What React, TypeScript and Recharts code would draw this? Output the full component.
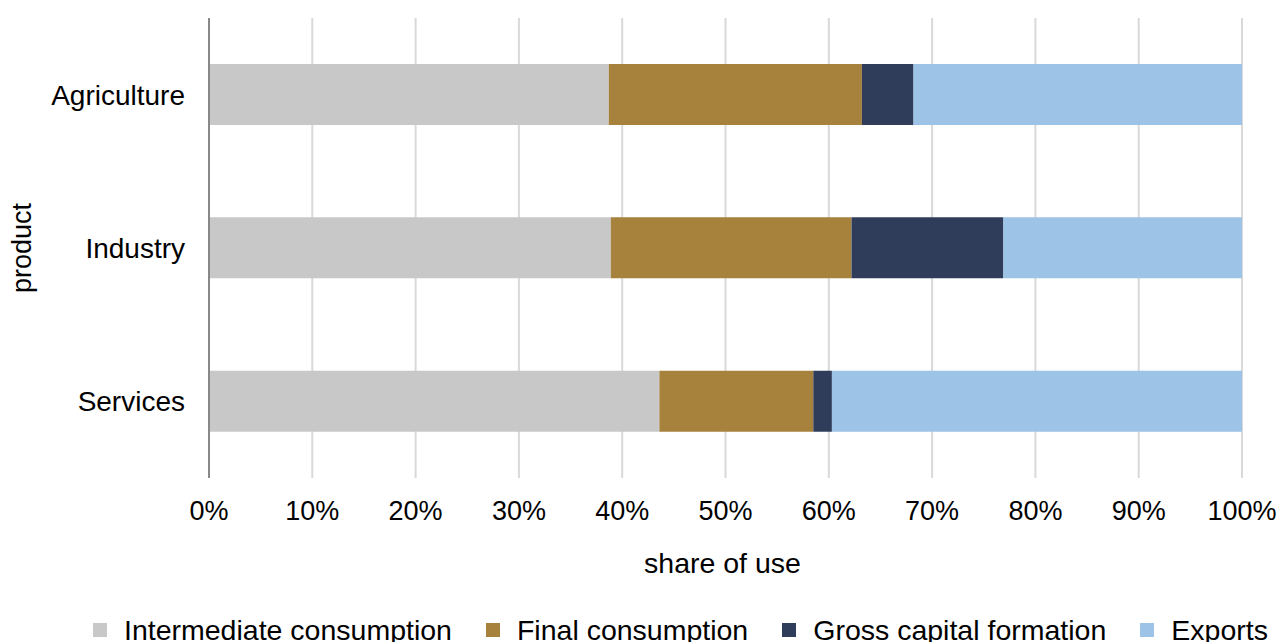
import React from "react"
import {
  Bar,
  BarChart,
  CartesianGrid,
  Label,
  XAxis,
  YAxis,
} from "recharts"

const products = ["Agriculture", "Industry", "Services"]
const intermediate = [0.387, 0.389, 0.436]
const finalConsumption = [0.245, 0.233, 0.149]
const capitalFormation = [0.05, 0.147, 0.018]
const exportsShare = [0.318, 0.231, 0.397]
const xTicks = [0, 0.1, 0.2, 0.3, 0.4, 0.5, 0.6, 0.7, 0.8, 0.9, 1]

const series = [
  { key: "intermediate", name: "Intermediate consumption", color: "#c8c8c8" },
  { key: "final", name: "Final consumption", color: "#a7823c" },
  { key: "gcf", name: "Gross capital formation", color: "#2f3c5a" },
  { key: "exports", name: "Exports", color: "#9dc3e6" },
]

const data = products.map((product, i) => ({
  product,
  intermediate: intermediate[i],
  final: finalConsumption[i],
  gcf: capitalFormation[i],
  exports: exportsShare[i],
}))

const FONT = "'Liberation Sans', Arial, sans-serif"

// legende manuelle, façon Excel (hors du chart pour ne pas rogner la zone de tracé)
const LegendRow = () => (
  <div
    style={{
      position: "absolute",
      left: 93,
      top: 615,
      display: "flex",
      alignItems: "center",
      gap: 34,
      fontFamily: FONT,
      fontSize: 28.5,
      lineHeight: "30px",
      color: "#000",
      whiteSpace: "nowrap",
    }}
  >
    {series.map((s) => (
      <div key={s.key} style={{ display: "flex", alignItems: "center" }}>
        <span
          style={{
            display: "inline-block",
            width: 14,
            height: 14,
            background: s.color,
            marginRight: 17,
          }}
        />
        <span>{s.name}</span>
      </div>
    ))}
  </div>
)

export default function App() {
  return (
    <div
      style={{
        position: "absolute",
        left: 0,
        top: 0,
        width: 1279,
        height: 642,
        overflow: "hidden",
        background: "#fff",
      }}
    >
      <BarChart
        width={1279}
        height={642}
        data={data}
        layout="vertical"
        margin={{ top: 18, right: 37, bottom: 134, left: 0 }}
        barSize={61}
      >
        <CartesianGrid horizontal={false} stroke="#d9d9d9" strokeWidth={2} />
        <XAxis
          type="number"
          domain={[0, 1]}
          ticks={xTicks}
          tickFormatter={(v: number) => `${Math.round(v * 100)}%`}
          axisLine={false}
          tickLine={false}
          tickMargin={17}
          height={30}
          tick={{ fill: "#000", fontSize: 27, fontFamily: FONT }}
          interval={0}
        >
          <Label
            value="share of use"
            position="bottom"
            offset={45}
            dx={-3}
            style={{ fill: "#000", fontSize: 28.5, fontFamily: FONT }}
          />
        </XAxis>
        <YAxis
          type="category"
          dataKey="product"
          width={209}
          axisLine={{ stroke: "#888", strokeWidth: 2 }}
          tickLine={false}
          tickMargin={18}
          tick={{ fill: "#000", fontSize: 28, fontFamily: FONT }}
        >
          <Label
            content={(props: any) => {
              const vb = props.viewBox || { x: 0, y: 0, height: 0 }
              const cx = vb.x + 22
              const cy = vb.y + vb.height / 2
              return (
                <text
                  x={cx}
                  y={cy}
                  transform={`rotate(-90 ${cx} ${cy})`}
                  textAnchor="middle"
                  dominantBaseline="central"
                  fill="#000"
                  fontSize={27}
                  fontFamily={FONT}
                >
                  product
                </text>
              )
            }}
          />
        </YAxis>
        {series.map((s) => (
          <Bar
            key={s.key}
            dataKey={s.key}
            name={s.name}
            stackId="use"
            fill={s.color}
            isAnimationActive={false}
          />
        ))}
      </BarChart>
      <LegendRow />
    </div>
  )
}
